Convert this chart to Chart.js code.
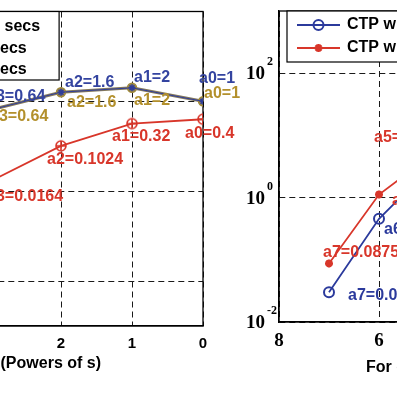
<!DOCTYPE html>
<html><head><meta charset="utf-8">
<script src="https://cdn.jsdelivr.net/npm/chart.js@4.4.1/dist/chart.umd.min.js"></script>
<style>
html,body{margin:0;padding:0;background:#fff;}
#wrap{position:relative;width:397px;height:397px;overflow:hidden;background:#fff;}
canvas{position:absolute;top:0;}
</style></head><body>
<div id="wrap">
<canvas id="cL" width="520" height="397" style="left:-250px"></canvas>
<canvas id="cR" width="480" height="397" style="left:219px"></canvas>
</div>
<script>
// ---------------- data ----------------
const leftPowers = [3, 2, 1, 0];
const leftSeriesNames = ['Ts=0.1 secs', 'Ts=1 secs', 'Ts=5 secs'];
const leftBlue  = [0.64, 1.6, 2, 1];
const leftOlive = [0.64, 1.6, 2, 1];
const leftRed   = [0.0164, 0.1024, 0.32, 0.4];
const leftXTicks = [5, 4, 3, 2, 1, 0];
const leftYTicks = [1e-4, 1e-2, 1, 1e2];
const leftXTitle = 'Coefficients (Powers of s)';

const rightOrders = [7, 6, 5];
const rightSeriesNames = ['CTP with Ts=1 secs', 'CTP with Ts=5 secs'];
const rightBlue = [0.03, 0.457, 2.9];
const rightRed  = [0.0875, 1.12, 4.5];
const rightXTicks = [8, 6, 4, 2, 0];
const rightYTicks = [1e-2, 1, 1e2];
const rightXTitle = 'For different orders';

// ---------------- styles ----------------
const BLUE = '#2f3d9a', OLIVE = '#b3902c', OLIVE_LINE = '#857a5c', RED = '#d8362a';
const LABEL_FONT = 'bold 16px "Liberation Sans", Arial, sans-serif';

function circlePlus(r, color) {
  const s = 2 * r + 4, c = document.createElement('canvas');
  c.width = s; c.height = s;
  const g = c.getContext('2d');
  g.strokeStyle = color; g.lineWidth = 1.6;
  g.beginPath(); g.arc(s / 2, s / 2, r, 0, Math.PI * 2); g.stroke();
  g.beginPath(); g.moveTo(s / 2 - r, s / 2); g.lineTo(s / 2 + r, s / 2);
  g.moveTo(s / 2, s / 2 - r); g.lineTo(s / 2, s / 2 + r); g.stroke();
  return c;
}
const toPts = (xs, ys) => xs.map((x, i) => ({ x: x, y: ys[i] }));

// label offsets (pixels, from point to label left/middle)
const offLBlue  = [[-3, -13], [4, -10], [2, -10], [-4, -23]];
const offLOlive = [[0, 7], [6, 10], [2, 13], [1, -8]];
const offLRed   = [[-3, 15], [-14, 14], [-20, 13], [-18, 14]];
const offRBlue  = [[19, 3], [5, 11], [5, 11]];
const offRRed   = [[-6, -11], [13, 6], [-55, -19]];

// ---------------- plugins ----------------
const boxPlugin = {
  id: 'boxPlugin',
  beforeDatasetsDraw(chart) {
    const ctx = chart.ctx, ca = chart.chartArea;
    ctx.save(); ctx.strokeStyle = '#000'; ctx.lineWidth = 1.3;
    ctx.strokeRect(ca.left, ca.top, ca.right - ca.left, ca.bottom - ca.top);
    ctx.restore();
  }
};
const ptLabels = {
  id: 'ptLabels',
  afterDatasetsDraw(chart, a, opts) {
    const ctx = chart.ctx;
    ctx.save(); ctx.font = LABEL_FONT; ctx.textAlign = 'left'; ctx.textBaseline = 'middle';
    opts.sets.forEach(s => {
      const meta = chart.getDatasetMeta(s.dataset), ds = chart.data.datasets[s.dataset];
      ctx.fillStyle = s.color;
      meta.data.forEach((el, i) => {
        const d = ds.data[i];
        ctx.fillText('a' + d.x + '=' + d.y, el.x + s.offsets[i][0], el.y + s.offsets[i][1]);
      });
    });
    ctx.restore();
  }
};
const boxLegend = {
  id: 'boxLegend',
  afterDraw(chart, a, o) {
    const ctx = chart.ctx, ca = chart.chartArea, items = chart.data.datasets;
    ctx.save(); ctx.font = LABEL_FONT;
    const maxW = Math.max(...items.map(d => ctx.measureText(d.label).width));
    const x0 = ca.left + o.left, y0 = ca.top, tx = ca.left + o.textX;
    const x1 = tx + maxW + o.padRight, y1 = ca.top + o.height;
    ctx.fillStyle = '#fff'; ctx.fillRect(x0, y0, x1 - x0, y1 - y0);
    ctx.strokeStyle = '#000'; ctx.lineWidth = 1.2; ctx.strokeRect(x0, y0, x1 - x0, y1 - y0);
    items.forEach((d, i) => {
      const y = ca.top + o.rows[i];
      const lx0 = ca.left + o.lineX[0], lx1 = ca.left + o.lineX[1];
      ctx.strokeStyle = d.borderColor; ctx.lineWidth = d.borderWidth;
      ctx.beginPath(); ctx.moveTo(lx0, y); ctx.lineTo(lx1, y); ctx.stroke();
      const ps = d.pointStyle;
      if (ps instanceof HTMLCanvasElement) {
        ctx.drawImage(ps, (lx0 + lx1) / 2 - ps.width / 2, y - ps.height / 2);
      } else if (Chart.helpers && Chart.helpers.drawPoint) {
        ctx.fillStyle = d.pointBackgroundColor || d.borderColor;
        ctx.strokeStyle = d.pointBorderColor || d.borderColor;
        ctx.lineWidth = d.pointBorderWidth || 1;
        Chart.helpers.drawPoint(ctx, { pointStyle: ps, radius: d.pointRadius, borderWidth: d.pointBorderWidth || 1, rotation: 0 }, (lx0 + lx1) / 2, y);
      }
      ctx.fillStyle = '#000'; ctx.textAlign = 'left'; ctx.textBaseline = 'middle';
      ctx.fillText(d.label, tx, y);
    });
    ctx.restore();
  }
};
const axisTitle = {
  id: 'axisTitle',
  afterDraw(chart, a, o) {
    const ctx = chart.ctx, ca = chart.chartArea;
    ctx.save(); ctx.font = o.font; ctx.fillStyle = '#000';
    ctx.textBaseline = 'middle'; ctx.textAlign = o.align;
    ctx.fillText(o.text, ca[o.anchor] + o.dx, ca.bottom + o.dy);
    ctx.restore();
  }
};
const expTicks = {
  id: 'expTicks',
  afterDraw(chart, a, o) {
    if (!o.values) return;
    const ctx = chart.ctx, ys = chart.scales.y, left = chart.chartArea.left;
    ctx.save(); ctx.fillStyle = '#000'; ctx.textBaseline = 'middle';
    o.values.forEach(v => {
      const py = ys.getPixelForValue(v), e = Math.round(Math.log10(v));
      ctx.font = 'bold 19px "Liberation Serif", serif'; ctx.textAlign = 'right';
      ctx.fillText('10', left - 14, py + 1);
      ctx.font = 'bold 12px "Liberation Serif", serif'; ctx.textAlign = 'left';
      ctx.fillText(String(e), left - 12, py - 11);
    });
    ctx.restore();
  }
};

const gridOpts = { color: '#1a1a1a', lineWidth: 1, drawTicks: false };
const borderOpts = { display: true, color: '#000', width: 1.3, dash: [6, 4] };

// ---------------- left chart ----------------
new Chart(document.getElementById('cL'), {
  type: 'line',
  data: {
    datasets: [
      { label: leftSeriesNames[0], data: toPts(leftPowers, leftBlue), borderColor: BLUE, borderWidth: 1,
        pointStyle: 'star', pointRadius: 3.5, pointBorderWidth: 1.5, pointBorderColor: BLUE, pointBackgroundColor: BLUE, order: 0 },
      { label: leftSeriesNames[1], data: toPts(leftPowers, leftOlive), borderColor: OLIVE_LINE, borderWidth: 3,
        pointStyle: 'circle', pointRadius: 4.5, pointBorderWidth: 1.5, pointBorderColor: '#a08a3a', pointBackgroundColor: '#998650', order: 1 },
      { label: leftSeriesNames[2], data: toPts(leftPowers, leftRed), borderColor: RED, borderWidth: 1.8,
        pointStyle: circlePlus(5, RED), pointRadius: 5, order: 2 }
    ]
  },
  options: {
    responsive: false, animation: false, devicePixelRatio: 1,
    layout: { padding: { top: 11.5, right: 67, bottom: 0, left: 0 } },
    elements: { line: { tension: 0 } },
    scales: {
      x: { type: 'linear', min: 0, max: 5, reverse: true,
        afterBuildTicks: s => { s.ticks = leftXTicks.map(v => ({ value: v })); },
        afterFit: s => { s.height = 71; },
        grid: gridOpts, border: borderOpts,
        ticks: { font: { family: '"Liberation Sans", Arial, sans-serif', size: 15, weight: 'bold' }, color: '#000', padding: 9, maxRotation: 0, autoSkip: false } },
      y: { type: 'logarithmic', min: 1e-5, max: 1e2,
        afterBuildTicks: s => { s.ticks = leftYTicks.map(v => ({ value: v })); },
        afterFit: s => { s.width = 98; },
        grid: gridOpts, border: borderOpts, ticks: { display: false } }
    },
    plugins: {
      legend: { display: false }, tooltip: { enabled: false },
      ptLabels: { sets: [
        { dataset: 0, color: '#3444a0', offsets: offLBlue },
        { dataset: 1, color: OLIVE, offsets: offLOlive },
        { dataset: 2, color: RED, offsets: offLRed } ] },
      boxLegend: { left: 30, textX: 103, lineX: [45, 93], rows: [15.5, 37, 58.5], height: 68.5, padRight: 19 },
      axisTitle: { text: leftXTitle, font: 'bold 16px "Liberation Sans", Arial, sans-serif', align: 'right', anchor: 'right', dx: -102, dy: 38 }
    }
  },
  plugins: [boxPlugin, ptLabels, boxLegend, axisTitle]
});

// ---------------- right chart ----------------
new Chart(document.getElementById('cR'), {
  type: 'line',
  data: {
    datasets: [
      { label: rightSeriesNames[0], data: toPts(rightOrders, rightBlue), borderColor: '#2b3a9c', borderWidth: 1.8,
        pointStyle: 'circle', pointRadius: 5, pointBorderWidth: 2, pointBorderColor: '#2b3a9c', pointBackgroundColor: 'rgba(255,255,255,0)' },
      { label: rightSeriesNames[1], data: toPts(rightOrders, rightRed), borderColor: RED, borderWidth: 1.8,
        pointStyle: 'star', pointRadius: 4, pointBorderWidth: 2.5, pointBorderColor: RED, pointBackgroundColor: RED }
    ]
  },
  options: {
    responsive: false, animation: false, devicePixelRatio: 1,
    layout: { padding: { top: 11, right: 20, bottom: 0, left: 0 } },
    elements: { line: { tension: 0 } },
    scales: {
      x: { type: 'linear', min: 0, max: 8, reverse: true,
        afterBuildTicks: s => { s.ticks = rightXTicks.map(v => ({ value: v })); },
        afterFit: s => { s.height = 75; },
        grid: gridOpts, border: borderOpts,
        ticks: { font: { family: '"Liberation Serif", serif', size: 19, weight: 'bold' }, color: '#000', padding: 8, maxRotation: 0, autoSkip: false } },
      y: { type: 'logarithmic', min: 1e-2, max: 1e3,
        afterBuildTicks: s => { s.ticks = rightYTicks.map(v => ({ value: v })); },
        afterFit: s => { s.width = 60; },
        grid: gridOpts, border: borderOpts, ticks: { display: false } }
    },
    plugins: {
      legend: { display: false }, tooltip: { enabled: false },
      ptLabels: { sets: [
        { dataset: 0, color: '#2b3a9c', offsets: offRBlue },
        { dataset: 1, color: RED, offsets: offRRed } ] },
      boxLegend: { left: 8, textX: 68, lineX: [18, 61], rows: [14, 37], height: 51, padRight: 19 },
      axisTitle: { text: rightXTitle, font: 'bold 16px "Liberation Sans", Arial, sans-serif', align: 'left', anchor: 'left', dx: 87, dy: 46 },
      expTicks: { values: rightYTicks }
    }
  },
  plugins: [boxPlugin, ptLabels, boxLegend, axisTitle, expTicks]
});
</script></body></html>
